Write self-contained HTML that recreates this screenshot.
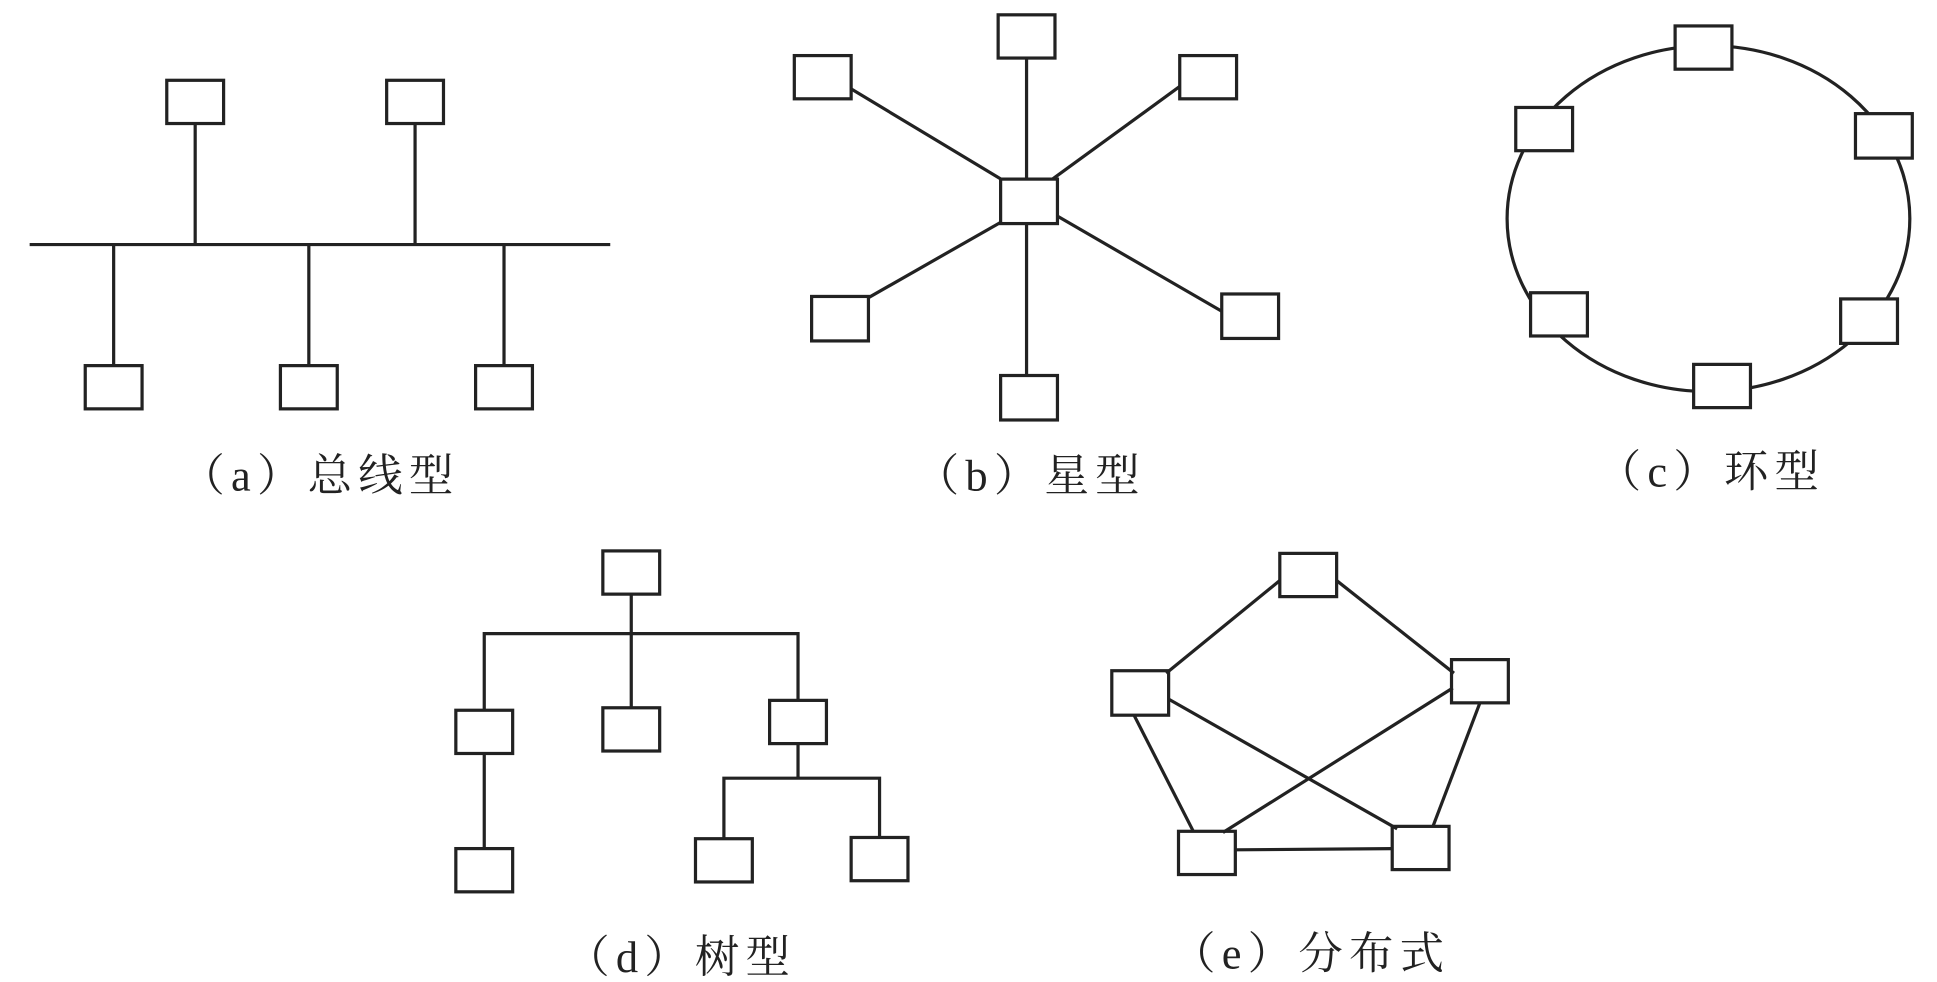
<!DOCTYPE html>
<html><head><meta charset="utf-8"><style>
html,body{margin:0;padding:0;background:#fff;}
svg{display:block;}
text{font-family:"Liberation Serif","Noto Serif CJK SC",serif;font-size:36px;letter-spacing:5px;fill:#222;}
</style></head><body>
<svg width="1937" height="982" viewBox="0 0 1568 795" preserveAspectRatio="none" xmlns="http://www.w3.org/2000/svg">
<g stroke="#222" stroke-width="2.6" fill="none">
<line x1="24" y1="198" x2="494" y2="198"/>
<line x1="158" y1="100" x2="158" y2="198"/>
<line x1="336" y1="100" x2="336" y2="198"/>
<line x1="92" y1="198" x2="92" y2="296"/>
<line x1="250" y1="198" x2="250" y2="296"/>
<line x1="408" y1="198" x2="408" y2="296"/>
<rect x="135" y="65" width="46" height="35"/>
<rect x="313" y="65" width="46" height="35"/>
<rect x="69" y="296" width="46" height="35"/>
<rect x="227" y="296" width="46" height="35"/>
<rect x="385" y="296" width="46" height="35"/>
<line x1="831" y1="47" x2="831" y2="304"/>
<line x1="689" y1="72" x2="812" y2="146"/>
<line x1="955" y1="70" x2="852" y2="145"/>
<line x1="703" y1="241" x2="810" y2="180"/>
<line x1="989" y1="252" x2="856" y2="175"/>
<rect x="810" y="145" width="46" height="36" fill="#fff"/>
<rect x="808" y="12" width="46" height="35"/>
<rect x="643" y="45" width="46" height="35"/>
<rect x="955" y="45" width="46" height="35"/>
<rect x="657" y="240" width="46" height="36"/>
<rect x="989" y="238" width="46" height="36"/>
<rect x="810" y="304" width="46" height="36"/>
<ellipse cx="1383" cy="177" rx="163" ry="140"/>
<g fill="#fff">
<rect x="1356" y="21" width="46" height="35"/>
<rect x="1227" y="87" width="46" height="35"/>
<rect x="1502" y="92" width="46" height="36"/>
<rect x="1239" y="237" width="46" height="35"/>
<rect x="1490" y="242" width="46" height="36"/>
<rect x="1371" y="295" width="46" height="35"/>
</g>
<line x1="511" y1="481" x2="511" y2="573"/>
<polyline points="392,575 392,513 646,513 646,567"/>
<line x1="392" y1="610" x2="392" y2="687"/>
<line x1="646" y1="602" x2="646" y2="630"/>
<polyline points="586,679 586,630 712,630 712,678"/>
<rect x="488" y="446" width="46" height="35"/>
<rect x="369" y="575" width="46" height="35"/>
<rect x="488" y="573" width="46" height="35"/>
<rect x="623" y="567" width="46" height="35"/>
<rect x="369" y="687" width="46" height="35"/>
<rect x="563" y="679" width="46" height="35"/>
<rect x="689" y="678" width="46" height="35"/>
<line x1="1036" y1="470" x2="944" y2="545"/>
<line x1="1082" y1="470" x2="1177" y2="545"/>
<line x1="946" y1="566" x2="1131" y2="671"/>
<line x1="1176" y1="557" x2="990" y2="674"/>
<line x1="918" y1="579" x2="966" y2="673"/>
<line x1="1198" y1="569" x2="1160" y2="669"/>
<line x1="1000" y1="688" x2="1127" y2="687"/>
<rect x="1036" y="448" width="46" height="35"/>
<rect x="900" y="543" width="46" height="36"/>
<rect x="1175" y="534" width="46" height="35"/>
<rect x="954" y="673" width="46" height="35"/>
<rect x="1127" y="669" width="46" height="35"/>
</g>
<text x="259" y="397" text-anchor="middle">（a）总线型</text>
<text x="834" y="397" text-anchor="middle">（b）星型</text>
<text x="1385" y="394" text-anchor="middle">（c）环型</text>
<text x="551" y="787" text-anchor="middle">（d）树型</text>
<text x="1061" y="784" text-anchor="middle">（e）分布式</text>
</svg>
</body></html>
